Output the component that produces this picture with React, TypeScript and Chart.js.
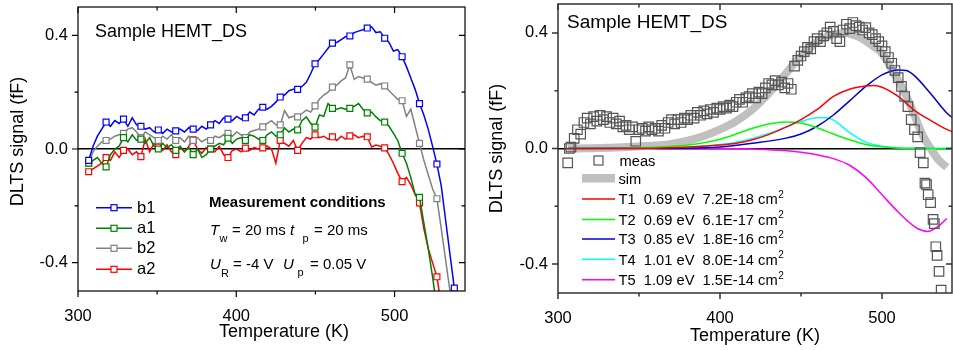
import React, { useEffect, useRef } from 'react';
import { Chart, registerables } from 'chart.js';

Chart.register(...registerables);

const FONT = '"Liberation Sans", Arial, Helvetica, sans-serif';

// ---------- axis ticks ----------
const X_TICKS = [300, 350, 400, 450, 500];
const Y_TICKS = [-0.4, -0.2, 0, 0.2, 0.4];

// ---------- left chart: measured series ----------
const TEMP_LEFT = [
  306.75, 309.5, 312.25, 315, 317.75, 320.5, 323.25, 326, 328.75, 331.5,
  334.25, 337, 339.75, 342.5, 345.25, 348, 350.75, 353.5, 356.25, 359,
  361.75, 364.5, 367.25, 370, 372.75, 375.5, 378.25, 381, 383.75, 386.5,
  389.25, 392, 394.75, 397.5, 400.25, 403, 405.75, 408.5, 411.25, 414,
  416.75, 419.5, 422.25, 425, 427.75, 430.5, 433.25, 436, 438.75, 441.5,
  444.25, 447, 449.75, 452.5, 455.25, 458, 460.75, 463.5, 466.25, 469,
  471.75, 474.5, 477.25, 480, 482.75, 485.5, 488.25, 491, 493.75, 496.5,
  499.25, 502, 504.75, 507.5, 510.25, 513, 515.75, 518.5, 521.25, 524,
  526.75, 529.5, 532.25, 535, 537.75, 540.5,
];

const B1 = [
  -0.04, 0.01, 0.045, 0.07, 0.095, 0.08, 0.1, 0.09, 0.105, 0.08,
  0.11, 0.085, 0.08, 0.07, 0.075, 0.06, 0.067, 0.055, 0.07, 0.06,
  0.064, 0.07, 0.06, 0.075, 0.07, 0.065, 0.08, 0.07, 0.085, 0.1,
  0.09, 0.11, 0.105, 0.1, 0.115, 0.105, 0.11, 0.13, 0.12, 0.14,
  0.147, 0.14, 0.15, 0.165, 0.183, 0.19, 0.205, 0.21, 0.21, 0.22,
  0.235, 0.265, 0.3, 0.315, 0.335, 0.355, 0.373, 0.375, 0.385, 0.395,
  0.398, 0.41, 0.415, 0.42, 0.426, 0.43, 0.41, 0.413, 0.39, 0.375,
  0.345, 0.35, 0.325, 0.29, 0.25, 0.21, 0.16, 0.12, 0.07, 0.01,
  -0.053, -0.13, -0.25, -0.37, -0.49, -0.6,
];

const A1 = [
  -0.05, -0.04, -0.03, -0.05, -0.063, -0.02, 0.0, 0.01, 0.04, 0.025,
  0.05, 0.03, 0.035, 0.02, 0.04, 0.01, 0.0, 0.02, 0.005, 0.015,
  -0.005, 0.01, -0.01, 0.005, -0.02, 0.0, -0.03, -0.02, 0.0, 0.01,
  0.02, 0.015, 0.038, 0.02, 0.035, 0.04, 0.03, 0.05, 0.045, 0.035,
  0.03, 0.05, 0.06, 0.045, 0.05, 0.074, 0.06, 0.07, 0.067, 0.1,
  0.113, 0.09, 0.077, 0.12, 0.115, 0.16, 0.143, 0.14, 0.145, 0.14,
  0.143, 0.15, 0.16, 0.14, 0.127, 0.13, 0.113, 0.1, 0.095, 0.08,
  0.056, 0.03, -0.015, -0.05, -0.1, -0.16, -0.17, -0.26, -0.35, -0.45,
  -0.56,
];

const B2 = [
  -0.05, -0.01, 0.01, 0.025, 0.03, 0.035, 0.045, 0.05, 0.055, 0.07,
  0.075, 0.06, 0.04, 0.06, 0.05, 0.04, 0.03, 0.045, 0.035, 0.05,
  0.03, 0.04, 0.025, 0.045, 0.03, 0.04, 0.025, 0.035, 0.03, 0.045,
  0.04, 0.05, 0.055, 0.045, 0.06, 0.05, 0.04, 0.06, 0.065, 0.07,
  0.078, 0.09, 0.1, 0.085, 0.085, 0.135, 0.11, 0.115, 0.113, 0.125,
  0.137, 0.13, 0.152, 0.175, 0.19, 0.2, 0.218, 0.225, 0.24, 0.25,
  0.296, 0.245, 0.255, 0.25, 0.246, 0.235, 0.225, 0.23, 0.222, 0.205,
  0.19, 0.175, 0.17, 0.115, 0.14, 0.08, 0.02, -0.04, -0.09, -0.14,
  -0.175, -0.28, -0.39, -0.5, -0.6,
];

const A2 = [
  -0.08, -0.07, -0.06, -0.05, -0.03, -0.04, -0.01, -0.03, -0.005, 0.0,
  -0.02, -0.01, -0.027, 0.035, -0.01, 0.02, 0.007, -0.005, 0.015, -0.01,
  -0.02, 0.005, -0.01, 0.01, 0.032, 0.0, -0.015, 0.005, 0.0, -0.01,
  0.01, -0.02, -0.03, -0.005, 0.0, -0.01, 0.003, -0.005, 0.005, 0.0,
  0.004, 0.01, 0.0, -0.05, 0.03, 0.02, 0.01, 0.03, -0.005, 0.02,
  0.04, 0.035, 0.05, 0.04, 0.045, 0.035, 0.043, 0.03, 0.045, 0.035,
  0.046, 0.05, 0.04, 0.045, 0.043, 0.007, 0.014, 0.01, 0.004, -0.02,
  -0.05, -0.085, -0.115, -0.1, -0.125, -0.16, -0.19, -0.28, -0.35, -0.4,
  -0.45, -0.55,
];

const LEFT_SERIES = [
  { label: 'b1', color: '#0000ff', values: B1 },
  { label: 'a1', color: '#008000', values: A1 },
  { label: 'b2', color: '#808080', values: B2 },
  { label: 'a2', color: '#ff0000', values: A2 },
];

// ---------- right chart ----------
const MEAS_T = [
  306, 307, 308, 310, 312, 314, 316, 318, 320, 322, 324, 326, 328, 330, 332, 334, 336, 338, 340, 342,
  344, 346, 348, 350, 352, 354, 356, 358, 360, 362, 364, 366, 368, 370, 372, 374, 376, 378, 380, 382,
  384, 386, 388, 390, 392, 394, 396, 398, 400, 402, 404, 406, 408, 410, 412, 414, 416, 418, 420, 422,
  424, 426, 428, 430, 432, 434, 436, 438, 440, 442, 444, 446, 448, 450, 452, 454, 456, 458, 460, 462,
  464, 466, 468, 470, 472, 474, 476, 478, 480, 482, 484, 486, 488, 490, 492, 494, 496, 498, 500, 502,
  504, 506, 508, 510, 512, 514, 516, 518, 520, 522, 523.5, 525.5, 526.5, 527.5, 528.5, 530, 531.5,
  532.3, 533.2, 534, 535.2, 536.5,
];
const MEAS_V = [
  -0.05, 0.0, 0.005, 0.035, 0.065, 0.05, 0.09, 0.105, 0.085, 0.11, 0.095, 0.115, 0.1, 0.11, 0.09, 0.105, 0.085, 0.095, 0.075, 0.08,
  0.065, 0.075, 0.025, 0.065, 0.07, 0.06, 0.075, 0.065, 0.07, 0.06, 0.08, 0.07, 0.09, 0.1, 0.085, 0.1, 0.09, 0.105, 0.1, 0.115,
  0.105, 0.125, 0.115, 0.13, 0.12, 0.135, 0.125, 0.14, 0.135, 0.145, 0.14, 0.15, 0.145, 0.16, 0.17, 0.16, 0.175, 0.18, 0.19, 0.175,
  0.195, 0.19, 0.21, 0.225, 0.22, 0.235, 0.22, 0.23, 0.21, 0.225, 0.205, 0.285, 0.305, 0.32, 0.335, 0.35, 0.345, 0.37, 0.38, 0.37,
  0.39, 0.4, 0.42, 0.405, 0.38, 0.37, 0.41, 0.43, 0.415, 0.436, 0.425, 0.42, 0.41, 0.418, 0.4, 0.394, 0.38, 0.37, 0.355, 0.335,
  0.315, 0.295, 0.27, 0.245, 0.215, 0.18, 0.145, 0.1, 0.065, 0.04, -0.014, -0.05, -0.12, -0.125, -0.16, -0.187, -0.245,
  -0.26, -0.34, -0.37, -0.425, -0.49,
];

const SIM_T = [306, 320, 340, 360, 370, 380, 390, 400, 410, 420, 430, 440, 450, 460, 470, 477, 485, 490, 495, 500, 505, 510, 515, 520, 525, 530, 535, 540];
const SIM_V = [0, 0.001, 0.004, 0.01, 0.016, 0.027, 0.043, 0.066, 0.095, 0.135, 0.19, 0.255, 0.32, 0.37, 0.395, 0.4, 0.388, 0.372, 0.352, 0.33, 0.284, 0.235, 0.182, 0.115, 0.047, 0.0, -0.04, -0.065];

const T1_T = [306, 360, 380, 400, 410, 420, 430, 440, 450, 460, 470, 480, 490, 495, 500, 510, 520, 530, 540, 545];
const T1_V = [0, 0.001, 0.005, 0.012, 0.018, 0.03, 0.048, 0.072, 0.1, 0.135, 0.18, 0.205, 0.216, 0.218, 0.212, 0.18, 0.132, 0.097, 0.066, 0.055];

const T2_T = [306, 340, 360, 380, 390, 400, 410, 420, 430, 440, 450, 460, 470, 480, 490, 500, 510, 520, 530, 545];
const T2_V = [0, 0.001, 0.004, 0.012, 0.02, 0.032, 0.05, 0.07, 0.085, 0.092, 0.088, 0.072, 0.05, 0.03, 0.014, 0.006, 0.002, 0.001, 0, 0];

const T3_T = [306, 380, 400, 420, 440, 450, 460, 470, 480, 490, 500, 510, 515, 520, 530, 540, 545];
const T3_V = [0, 0.001, 0.005, 0.018, 0.035, 0.05, 0.077, 0.116, 0.165, 0.215, 0.255, 0.272, 0.27, 0.252, 0.19, 0.123, 0.1];

const T4_T = [306, 370, 390, 400, 410, 420, 430, 440, 450, 460, 465, 470, 480, 490, 500, 510, 520, 545];
const T4_V = [0, 0.002, 0.008, 0.014, 0.022, 0.035, 0.052, 0.073, 0.093, 0.106, 0.106, 0.098, 0.055, 0.022, 0.008, 0.002, 0, 0];

const T5_T = [306, 400, 420, 440, 450, 460, 470, 480, 490, 500, 510, 520, 525, 528, 535, 540];
const T5_V = [0, 0, -0.002, -0.007, -0.013, -0.022, -0.035, -0.058, -0.1, -0.16, -0.22, -0.27, -0.284, -0.287, -0.268, -0.242];

const TRAPS = [
  { name: 'T1', text: 'T1  0.69 eV  7.2E-18 cm', color: '#ff0000', t: T1_T, v: T1_V },
  { name: 'T2', text: 'T2  0.69 eV  6.1E-17 cm', color: '#00ff00', t: T2_T, v: T2_V },
  { name: 'T3', text: 'T3  0.85 eV  1.8E-16 cm', color: '#0000d0', t: T3_T, v: T3_V },
  { name: 'T4', text: 'T4  1.01 eV  8.0E-14 cm', color: '#00ffff', t: T4_T, v: T4_V },
  { name: 'T5', text: 'T5  1.09 eV  1.5E-14 cm', color: '#ff00ff', t: T5_T, v: T5_V },
];

const pts = (t: number[], v: number[]) => v.map((y, i) => ({ x: t[i], y }));

function txt(ctx: CanvasRenderingContext2D, s: string, x: number, y: number, size: number, style = '') {
  ctx.font = `${style}${size}px ${FONT}`;
  ctx.fillStyle = '#000';
  ctx.textAlign = 'left';
  ctx.textBaseline = 'alphabetic';
  ctx.fillText(s, x, y);
}

function frameAndTicks(chart: any, color: string, width: number) {
  const { ctx, chartArea: a, scales } = chart;
  const x = scales.x, y = scales.y;
  ctx.save();
  ctx.strokeStyle = color;
  ctx.lineWidth = width;
  ctx.strokeRect(a.left, a.top, a.right - a.left, a.bottom - a.top);
  ctx.beginPath();
  for (const v of X_TICKS) {
    const px = x.getPixelForValue(v);
    const L = v % 100 === 0 ? 6 : 3.5;
    ctx.moveTo(px, a.bottom); ctx.lineTo(px, a.bottom + L);
    ctx.moveTo(px, a.top); ctx.lineTo(px, a.top + L);
  }
  for (const v of Y_TICKS) {
    const py = y.getPixelForValue(v);
    const L = Math.abs(Math.round(v * 10)) % 4 === 0 ? 6 : 3.5;
    ctx.moveTo(a.left - L, py); ctx.lineTo(a.left, py);
    ctx.moveTo(a.right - L, py); ctx.lineTo(a.right, py);
  }
  ctx.stroke();
  ctx.restore();
}

const leftDecor = {
  id: 'leftDecor',
  afterDraw(chart: any) {
    const ctx = chart.ctx as CanvasRenderingContext2D;
    frameAndTicks(chart, '#000', 1.2);
    ctx.save();
    txt(ctx, 'Sample HEMT_DS', 95, 37, 18);
    const rows = [207.7, 228.3, 248.3, 269.3];
    LEFT_SERIES.forEach((s, i) => {
      const yy = rows[i];
      ctx.strokeStyle = s.color;
      ctx.lineWidth = 1.5;
      ctx.beginPath(); ctx.moveTo(96, yy); ctx.lineTo(132, yy); ctx.stroke();
      ctx.fillStyle = '#fff';
      ctx.fillRect(111, yy - 3, 6, 6);
      ctx.lineWidth = 1.2;
      ctx.strokeRect(111, yy - 3, 6, 6);
      txt(ctx, s.label, 137, yy + 5, 16.5);
    });
    txt(ctx, 'Measurement conditions', 209, 207, 15, 'bold ');
    txt(ctx, 'T', 210, 235, 15, 'italic ');
    txt(ctx, 'w', 219.5, 241.5, 11);
    txt(ctx, '= 20 ms', 232, 235, 15);
    txt(ctx, 't', 290, 235, 15, 'italic ');
    txt(ctx, 'p', 302.5, 241.5, 11);
    txt(ctx, '= 20 ms', 314, 235, 15);
    txt(ctx, 'U', 210, 269, 15, 'italic ');
    txt(ctx, 'R', 221, 276.5, 11);
    txt(ctx, '= -4 V', 233, 269, 15);
    txt(ctx, 'U', 283, 269, 15, 'italic ');
    txt(ctx, 'p', 297.5, 276, 11);
    txt(ctx, '= 0.05 V', 310, 269, 15);
    ctx.restore();
  },
};

const rightDecor = {
  id: 'rightDecor',
  afterDraw(chart: any) {
    const ctx = chart.ctx as CanvasRenderingContext2D;
    frameAndTicks(chart, '#333', 1.5);
    ctx.save();
    txt(ctx, 'Sample HEMT_DS', 87, 27.5, 19);
    // meas
    ctx.strokeStyle = '#555';
    ctx.lineWidth = 1.2;
    ctx.strokeRect(114, 156, 9, 9);
    txt(ctx, 'meas', 139.5, 165.5, 14.7);
    // sim
    ctx.fillStyle = '#c0c0c0';
    ctx.fillRect(102, 174, 33, 8.5);
    txt(ctx, 'sim', 138.5, 184, 14.7);
    const bases = [204.3, 224.7, 244.3, 264.5, 285];
    TRAPS.forEach((tr, i) => {
      const b = bases[i];
      ctx.strokeStyle = tr.color;
      ctx.lineWidth = 1.5;
      ctx.beginPath(); ctx.moveTo(102, b - 5.3); ctx.lineTo(135, b - 5.3); ctx.stroke();
      txt(ctx, tr.text, 138.5, b, 14.7);
      ctx.font = `14.7px ${FONT}`;
      const w = ctx.measureText(tr.text).width;
      txt(ctx, '2', 138.5 + w + 0.5, b - 6.5, 10);
    });
    ctx.restore();
  },
};

function axes(opts: { xMax: number; yTitle: string; xTitle: string; yTitlePad: number; xTitlePad: number; xH: number }) {
  return {
    x: {
      type: 'linear',
      min: 300,
      max: opts.xMax,
      afterBuildTicks: (s: any) => { s.ticks = X_TICKS.map((v) => ({ value: v })); },
      afterFit: (s: any) => { s.height = opts.xH; s.paddingLeft = 0; s.paddingRight = 0; },
      grid: { display: false },
      border: { display: false },
      ticks: {
        autoSkip: false, maxRotation: 0, padding: 8, color: '#000',
        font: { family: FONT, size: 16.5 },
        callback: (v: any) => (Number(v) % 100 === 0 ? String(v) : ''),
      },
      title: {
        display: true, text: opts.xTitle, color: '#000',
        font: { family: FONT, size: 18 }, padding: { top: 0, bottom: opts.xTitlePad },
      },
    },
    y: {
      type: 'linear',
      min: -0.5,
      max: 0.5,
      afterBuildTicks: (s: any) => { s.ticks = Y_TICKS.map((v) => ({ value: v })); },
      afterFit: (s: any) => { s.width = 78; s.paddingTop = 0; s.paddingBottom = 0; },
      grid: {
        display: true, drawOnChartArea: true, drawTicks: false,
        color: (c: any) => (c.tick && Math.abs(c.tick.value) < 1e-9 ? '#000' : 'rgba(0,0,0,0)'),
        lineWidth: 1.6,
      },
      border: { display: false },
      ticks: {
        autoSkip: false, padding: 10, color: '#000',
        font: { family: FONT, size: 16.5 },
        callback: (v: any) => {
          const n = Math.round(Number(v) * 10);
          return Math.abs(n) % 4 === 0 ? (n / 10).toFixed(1) : '';
        },
      },
      title: {
        display: true, text: opts.yTitle, color: '#000',
        font: { family: FONT, size: 18 }, padding: { top: opts.yTitlePad, bottom: 0 },
      },
    },
  };
}

export default function App() {
  const leftRef = useRef<HTMLCanvasElement>(null);
  const rightRef = useRef<HTMLCanvasElement>(null);

  useEffect(() => {
    const left = new Chart(leftRef.current as HTMLCanvasElement, {
      type: 'line',
      data: {
        datasets: LEFT_SERIES.map((s) => ({
          label: s.label,
          data: pts(TEMP_LEFT, s.values),
          borderColor: s.color,
          borderWidth: 1.5,
          tension: 0,
          pointStyle: 'rect',
          pointRadius: (c: any) => (c.dataIndex % 4 === 0 ? 4.2 : 0),
          pointBorderColor: s.color,
          pointBackgroundColor: '#fff',
          pointBorderWidth: 1.2,
        })),
      },
      options: {
        responsive: false,
        animation: false,
        devicePixelRatio: 1,
        events: [],
        layout: { autoPadding: false, padding: { left: 0, right: 15, top: 7, bottom: 0 } },
        plugins: { legend: { display: false }, tooltip: { enabled: false } },
        scales: axes({
          xMax: 544.5, xTitle: '     Temperature (K)', yTitle: '   DLTS signal (fF)',
          yTitlePad: 7, xTitlePad: 7.2, xH: 59,
        }) as any,
      },
      plugins: [leftDecor],
    } as any);

    const right = new Chart(rightRef.current as HTMLCanvasElement, {
      type: 'line',
      data: {
        datasets: [
          {
            label: 'meas',
            data: pts(MEAS_T, MEAS_V),
            showLine: false,
            pointStyle: 'rect',
            pointRadius: 6.7,
            pointBorderColor: '#555',
            pointBackgroundColor: 'rgba(0,0,0,0)',
            pointBorderWidth: 1.2,
          },
          ...TRAPS.map((tr) => ({
            label: tr.name,
            data: pts(tr.t, tr.v),
            borderColor: tr.color,
            borderWidth: 1.5,
            pointRadius: 0,
            cubicInterpolationMode: 'monotone',
          })),
          {
            label: 'sim',
            data: pts(SIM_T, SIM_V),
            borderColor: '#c0c0c0',
            borderWidth: 8,
            pointRadius: 0,
            cubicInterpolationMode: 'monotone',
          },
        ],
      },
      options: {
        responsive: false,
        animation: false,
        devicePixelRatio: 1,
        events: [],
        layout: { autoPadding: false, padding: { left: 0, right: 1, top: 4, bottom: 0 } },
        plugins: { legend: { display: false }, tooltip: { enabled: false } },
        scales: axes({
          xMax: 543.2, xTitle: 'Temperature (K)', yTitle: 'DLTS signal (fF)',
          yTitlePad: 6, xTitlePad: 3.4, xH: 57,
        }) as any,
      },
      plugins: [rightDecor],
    } as any);

    return () => { left.destroy(); right.destroy(); };
  }, []);

  return (
    <div style={{ position: 'absolute', left: 0, top: 0, width: 953, height: 350, background: '#fff', overflow: 'hidden' }}>
      <canvas ref={leftRef} width={480} height={350} style={{ position: 'absolute', left: 0, top: 0, width: 480, height: 350 }} />
      <canvas ref={rightRef} width={473} height={350} style={{ position: 'absolute', left: 480, top: 0, width: 473, height: 350 }} />
    </div>
  );
}
